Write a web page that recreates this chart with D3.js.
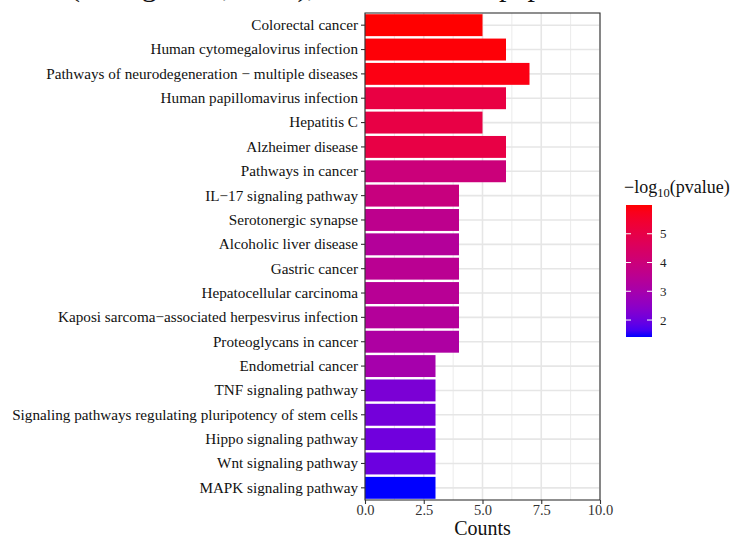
<!DOCTYPE html>
<html>
<head>
<meta charset="utf-8">
<script src="https://cdn.jsdelivr.net/npm/d3@7"></script>
<style>
  html, body { margin: 0; padding: 0; background: #fff; }
  svg { display: block; }
</style>
</head>
<body>
<svg id="chart" width="734" height="540"></svg>
<script>
const categories = [
  "Colorectal cancer",
  "Human cytomegalovirus infection",
  "Pathways of neurodegeneration − multiple diseases",
  "Human papillomavirus infection",
  "Hepatitis C",
  "Alzheimer disease",
  "Pathways in cancer",
  "IL−17 signaling pathway",
  "Serotonergic synapse",
  "Alcoholic liver disease",
  "Gastric cancer",
  "Hepatocellular carcinoma",
  "Kaposi sarcoma−associated herpesvirus infection",
  "Proteoglycans in cancer",
  "Endometrial cancer",
  "TNF signaling pathway",
  "Signaling pathways regulating pluripotency of stem cells",
  "Hippo signaling pathway",
  "Wnt signaling pathway",
  "MAPK signaling pathway"
];
const counts = [5, 6, 7, 6, 5, 6, 6, 4, 4, 4, 4, 4, 4, 4, 3, 3, 3, 3, 3, 3];
const negLogP = [6.0, 5.95, 5.85, 5.1, 5.05, 5.05, 4.0, 3.9, 3.6, 3.35, 3.5, 3.45, 3.35, 3.2, 3.0, 2.2, 2.1, 2.05, 2.0, 1.41];
const xTicks = [0, 2.5, 5, 7.5, 10];
const xMinor = [1.25, 3.75, 6.25, 8.75];
const legendTicks = [2, 3, 4, 5];
const colorDomain = [1.41, 6.0];
const clippedCaption = "(Zhang et al., 2020), as used in this paper";

const svg = d3.select("#chart");
const P = { left: 365, right: 600, top: 13, bottom: 500 };
const font = "Liberation Serif, Times New Roman, serif";

// clipped caption text at very top (cut-off page text, only descenders visible)
svg.append("text")
  .attr("x", 70).attr("y", -4)
  .attr("font-family", font)
  .attr("font-size", 30).attr("fill", "#111")
  .text(clippedCaption);

const x = d3.scaleLinear().domain([0, 10]).range([P.left, P.right]);
const y = d3.scaleBand().domain(categories).range([P.top, P.bottom]).paddingInner(0.1).paddingOuter(0.05);
const color = d3.scaleLinear().domain(colorDomain).range(["blue", "red"]).interpolate(d3.interpolateLab).clamp(true);

// panel background
svg.append("rect").attr("x", P.left).attr("y", P.top)
  .attr("width", P.right - P.left).attr("height", P.bottom - P.top).attr("fill", "#fff");

// gridlines
const g = svg.append("g");
g.selectAll(".minor").data(xMinor).enter().append("line")
  .attr("x1", d => x(d)).attr("x2", d => x(d)).attr("y1", P.top).attr("y2", P.bottom)
  .attr("stroke", "#EBEBEB").attr("stroke-width", 1);
g.selectAll(".major").data(xTicks).enter().append("line")
  .attr("x1", d => x(d)).attr("x2", d => x(d)).attr("y1", P.top).attr("y2", P.bottom)
  .attr("stroke", "#E6E6E6").attr("stroke-width", 1.6);
g.selectAll(".hgrid").data(categories).enter().append("line")
  .attr("x1", P.left).attr("x2", P.right)
  .attr("y1", d => y(d) + y.bandwidth() / 2).attr("y2", d => y(d) + y.bandwidth() / 2)
  .attr("stroke", "#E6E6E6").attr("stroke-width", 1.6);

// bars
svg.append("g").selectAll("rect").data(categories).enter().append("rect")
  .attr("x", x(0))
  .attr("y", d => y(d))
  .attr("width", (d, i) => x(counts[i]) - x(0))
  .attr("height", y.bandwidth())
  .attr("fill", (d, i) => color(negLogP[i]));

// panel border
svg.append("rect").attr("x", P.left).attr("y", P.top)
  .attr("width", P.right - P.left).attr("height", P.bottom - P.top)
  .attr("fill", "none").attr("stroke", "#333").attr("stroke-width", 1.1);

// axes
const yAxis = svg.append("g").attr("transform", `translate(${P.left},0)`)
  .call(d3.axisLeft(y).tickSize(4).tickPadding(3));
yAxis.select(".domain").remove();
yAxis.selectAll("line").attr("stroke", "#333").attr("stroke-width", 1.1);
yAxis.selectAll("text").attr("font-family", font).attr("font-size", 15.2).attr("fill", "#111");

const xAxis = svg.append("g").attr("transform", `translate(0,${P.bottom})`)
  .call(d3.axisBottom(x).tickValues(xTicks).tickFormat(d3.format(".1f")).tickSize(4).tickPadding(1));
xAxis.select(".domain").remove();
xAxis.selectAll("line").attr("stroke", "#333").attr("stroke-width", 1.1);
xAxis.selectAll("text").attr("font-family", font).attr("font-size", 14.5).attr("fill", "#333");

svg.append("text").attr("x", (P.left + P.right) / 2).attr("y", 535)
  .attr("text-anchor", "middle").attr("font-family", font).attr("font-size", 20).attr("fill", "#111")
  .text("Counts");

// legend
const L = { x: 626, w: 26, top: 205, bottom: 337 };
const defs = svg.append("defs");
const grad = defs.append("linearGradient").attr("id", "lg").attr("x1", 0).attr("x2", 0).attr("y1", 1).attr("y2", 0);
d3.range(0, 1.0001, 0.05).forEach(t => {
  grad.append("stop").attr("offset", t).attr("stop-color", color(colorDomain[0] + t * (colorDomain[1] - colorDomain[0])));
});
svg.append("rect").attr("x", L.x).attr("y", L.top).attr("width", L.w).attr("height", L.bottom - L.top)
  .attr("fill", "url(#lg)");
const ly = d3.scaleLinear().domain(colorDomain).range([L.bottom, L.top]);
const lt = svg.append("g");
lt.selectAll(".tl").data(legendTicks).enter().append("line")
  .attr("x1", L.x).attr("x2", L.x + 5).attr("y1", d => ly(d)).attr("y2", d => ly(d))
  .attr("stroke", "#fff").attr("stroke-width", 1);
lt.selectAll(".tr").data(legendTicks).enter().append("line")
  .attr("x1", L.x + L.w - 5).attr("x2", L.x + L.w).attr("y1", d => ly(d)).attr("y2", d => ly(d))
  .attr("stroke", "#fff").attr("stroke-width", 1);
lt.selectAll("text").data(legendTicks).enter().append("text")
  .attr("x", L.x + L.w + 8).attr("y", d => ly(d)).attr("dy", "0.35em")
  .attr("font-family", font).attr("font-size", 13).attr("fill", "#222")
  .text(d => d);

const lt2 = svg.append("text").attr("x", 624).attr("y", 193)
  .attr("font-family", font).attr("font-size", 18).attr("fill", "#111");
lt2.append("tspan").text("−log");
lt2.append("tspan").attr("font-size", 12.5).attr("dy", 4).text("10");
lt2.append("tspan").attr("dy", -4).text("(pvalue)");
</script>
</body>
</html>
